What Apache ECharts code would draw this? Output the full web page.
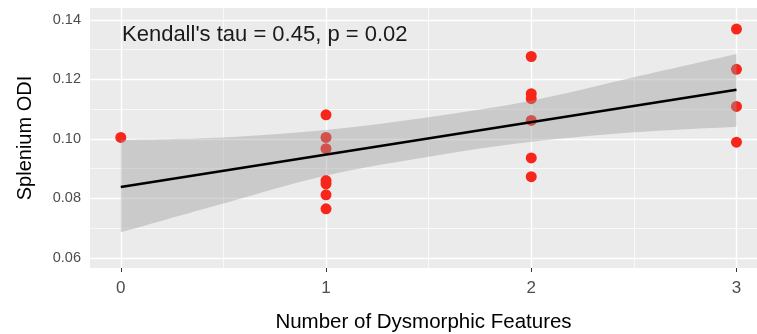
<!DOCTYPE html>
<html><head><meta charset="utf-8">
<script src="https://cdn.jsdelivr.net/npm/echarts@6/dist/echarts.min.js"></script>
<style>html,body{margin:0;padding:0;background:#fff}#c{width:757px;height:334px}</style>
</head><body><div id="c"></div>
<script>
const featureCount = [0, 1,1,1,1,1,1,1, 2,2,2,2,2,2, 3,3,3,3];
const spleniumODI = [0.1005, 0.1081,0.1005,0.0967,0.0860,0.0849,0.0812,0.0765, 0.1277,0.1152,0.1135,0.1062,0.0936,0.0873, 0.1369,0.1234,0.1109,0.0989];
const fitX = [0, 3];
const fitY = [0.0838, 0.1165];
const bandX = [0, 0.5, 1, 1.5, 2, 2.5, 3];
const bandLow = [0.0686, 0.0783, 0.0877, 0.0940, 0.0990, 0.1022, 0.1041];
const bandHigh = [0.0997, 0.1005, 0.1030, 0.1073, 0.1128, 0.1207, 0.1285];
const xTicks = [0, 1, 2, 3];
const xMinor = [0.5, 1.5, 2.5];
const yTicks = [0.06, 0.08, 0.10, 0.12, 0.14];
const yMinor = [0.07, 0.09, 0.11, 0.13];
const annotation = "Kendall's tau = 0.45, p = 0.02";
const xTitle = 'Number of Dysmorphic Features';
const yTitle = 'Splenium ODI';

const FONT = "'Liberation Sans', Arial, Helvetica, sans-serif";
const chart = echarts.init(document.getElementById('c'), null, {renderer: 'canvas'});

function spline(pts) {
  let d = '';
  for (let i = 0; i < pts.length - 1; i++) {
    const p0 = pts[Math.max(i - 1, 0)], p1 = pts[i], p2 = pts[i + 1], p3 = pts[Math.min(i + 2, pts.length - 1)];
    const c1 = [p1[0] + (p2[0] - p0[0]) / 6, p1[1] + (p2[1] - p0[1]) / 6];
    const c2 = [p2[0] - (p3[0] - p1[0]) / 6, p2[1] - (p3[1] - p1[1]) / 6];
    d += ' C' + c1[0] + ' ' + c1[1] + ' ' + c2[0] + ' ' + c2[1] + ' ' + p2[0] + ' ' + p2[1];
  }
  return d;
}

const gridLines = [];
xTicks.forEach(v => gridLines.push({xAxis: v, lineStyle: {color: '#fff', width: 1.4, type: 'solid'}}));
xMinor.forEach(v => gridLines.push({xAxis: v, lineStyle: {color: '#fff', width: 0.7, type: 'solid'}}));
yTicks.forEach(v => gridLines.push({yAxis: v, lineStyle: {color: '#fff', width: 1.4, type: 'solid'}}));
yMinor.forEach(v => gridLines.push({yAxis: v, lineStyle: {color: '#fff', width: 0.7, type: 'solid'}}));

chart.setOption({
  animation: false,
  title: {
    text: annotation, left: 117, top: 19,
    textStyle: {fontFamily: FONT, fontSize: 22, fontWeight: 'normal', color: '#1a1a1a'}
  },
  grid: {left: 90, right: 0, top: 8, bottom: 66, show: true, backgroundColor: '#EBEBEB', borderWidth: 0,
    containLabel: false, outerBoundsMode: 'none'},
  xAxis: {
    type: 'value', min: -0.15, max: 3.1,
    name: xTitle, nameLocation: 'middle', nameGap: 44,
    nameTextStyle: {fontFamily: FONT, fontSize: 20.5, color: '#000'},
    axisLine: {show: false},
    splitLine: {show: false},
    axisTick: {show: true, customValues: xTicks, length: 4, lineStyle: {color: '#333', width: 1}},
    axisLabel: {customValues: xTicks, margin: 12, fontFamily: FONT, fontSize: 17, color: '#4D4D4D',
      formatter: v => String(v)}
  },
  yAxis: {
    type: 'value', min: 0.0566, max: 0.144,
    name: yTitle, nameLocation: 'middle', nameGap: 55,
    nameTextStyle: {fontFamily: FONT, fontSize: 20, color: '#000'},
    axisLine: {show: false},
    splitLine: {show: false},
    axisTick: {show: true, customValues: yTicks, length: 4, lineStyle: {color: '#333', width: 1}},
    axisLabel: {customValues: yTicks, margin: 9, fontFamily: FONT, fontSize: 14.5, color: '#4D4D4D',
      formatter: v => v.toFixed(2)}
  },
  series: [
    {
      type: 'line', data: [], z: 1, silent: true,
      markLine: {z: 1, silent: true, symbol: ['none', 'none'], label: {show: false}, animation: false,
        emphasis: {disabled: true}, data: gridLines}
    },
    {
      type: 'scatter', z: 2, symbolSize: 11,
      itemStyle: {color: '#F8261A', opacity: 1, borderWidth: 0},
      data: featureCount.map((x, i) => [x, spleniumODI[i]])
    },
    {
      type: 'custom', z: 3, silent: true,
      data: bandX.map((x, i) => [x, bandLow[i], bandHigh[i]]),
      encode: {x: 0, y: [1, 2]},
      renderItem: function (params, api) {
        if (params.dataIndex !== 0) return null;
        const up = bandX.map((x, i) => api.coord([x, bandHigh[i]]));
        const lo = bandX.map((x, i) => api.coord([x, bandLow[i]])).reverse();
        let d = 'M' + up[0][0] + ' ' + up[0][1] + spline(up);
        d += ' L' + lo[0][0] + ' ' + lo[0][1] + spline(lo) + ' Z';
        return {type: 'path', shape: {pathData: d}, style: {fill: 'rgba(153,153,153,0.4)', stroke: null}};
      }
    },
    {
      type: 'line', z: 4, symbol: 'none', silent: true,
      lineStyle: {color: '#000', width: 2.6},
      data: fitX.map((x, i) => [x, fitY[i]])
    }
  ]
});
</script></body></html>
